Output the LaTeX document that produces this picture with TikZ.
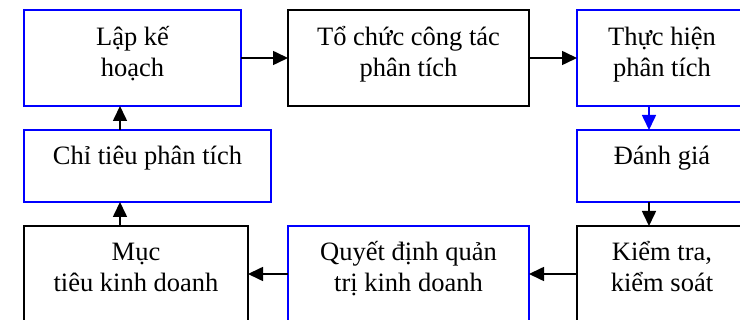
\documentclass[tikz,border=0pt]{standalone}
\usepackage{fontspec}
\setmainfont{Liberation Serif}
\usetikzlibrary{arrows.meta}
\begin{document}
\begin{tikzpicture}[x=1pt,y=-1pt,
  boxb/.style={draw=blue,line width=1.6pt},
  boxk/.style={draw=black,line width=1.8pt},
  slot/.style={inner sep=0pt,outer sep=0pt},
  lbl/.style={anchor=base,inner sep=0pt,font=\fontsize{26.5}{31}\selectfont},
  arr/.style={line width=1.6pt,-{Triangle[length=15pt,width=14pt]}}]
\clip (0,0) rectangle (740,320);
\useasboundingbox (0,0) rectangle (740,320);
% box frames
\node[slot,minimum width=217pt,minimum height=96pt] (A) at (132.5,58) {};
\node[slot,minimum width=241pt,minimum height=96pt] (B) at (408.5,58) {};
\node[slot,minimum width=170pt,minimum height=96pt] (C) at (662,58) {};
\node[slot,minimum width=247pt,minimum height=72pt] (D) at (147.5,166) {};
\node[slot,minimum width=170pt,minimum height=72pt] (E) at (662,166) {};
\node[slot,minimum width=224pt,minimum height=110pt] (F) at (136,281) {};
\node[slot,minimum width=241pt,minimum height=110pt] (G) at (408.5,281) {};
\node[slot,minimum width=170pt,minimum height=110pt] (H) at (662,281) {};
\draw[boxb] (A.north west) rectangle (A.south east);
\draw[boxk] (B.north west) rectangle (B.south east);
\draw[boxb] (C.north west) rectangle (C.south east);
\draw[boxb] (D.north west) rectangle (D.south east);
\draw[boxb] (E.north west) rectangle (E.south east);
\draw[boxk] (F.north west) rectangle (F.south east);
\draw[boxb] (G.north west) rectangle (G.south east);
\draw[boxk] (H.north west) rectangle (H.south east);
% texts
\node[lbl] (tA) at ([yshift=-36pt]A.north) {\begin{tabular}[t]{@{}c@{}}Lập kế\\hoạch\end{tabular}};
\node[lbl] (tB) at ([yshift=-36pt]B.north) {\begin{tabular}[t]{@{}c@{}}Tổ chức công tác\\phân tích\end{tabular}};
\node[lbl] (tC) at ([yshift=-36pt]C.north) {\begin{tabular}[t]{@{}c@{}}Thực hiện\\phân tích\end{tabular}};
\node[lbl] (tD) at ([yshift=-35pt]D.north) {Chỉ tiêu phân tích};
\node[lbl] (tE) at ([yshift=-35pt]E.north) {Đánh giá};
\node[lbl] (tF) at ([yshift=-35pt]F.north) {\begin{tabular}[t]{@{}c@{}}Mục\\tiêu kinh doanh\end{tabular}};
\node[lbl] (tG) at ([yshift=-35pt]G.north) {\begin{tabular}[t]{@{}c@{}}Quyết định quản\\trị kinh doanh\end{tabular}};
\node[lbl] (tH) at ([yshift=-35pt]H.north) {\begin{tabular}[t]{@{}c@{}}Kiểm tra,\\kiểm soát\end{tabular}};
% arrows
\coordinate (xL) at (120,0);
\coordinate (xR) at (649,0);
\coordinate (yB) at (0,274);
\draw[arr] (A.east) -- (B.west);
\draw[arr] (B.east) -- (C.west);
\draw[arr,draw=blue,fill=blue] (C.south -| xR) -- (E.north -| xR);
\draw[arr] (E.south -| xR) -- (H.north -| xR);
\draw[arr] (H.west |- yB) -- (G.east |- yB);
\draw[arr] (G.west |- yB) -- (F.east |- yB);
\draw[arr] (F.north -| xL) -- (D.south -| xL);
\draw[arr] (D.north -| xL) -- (A.south -| xL);
\end{tikzpicture}
\end{document}
